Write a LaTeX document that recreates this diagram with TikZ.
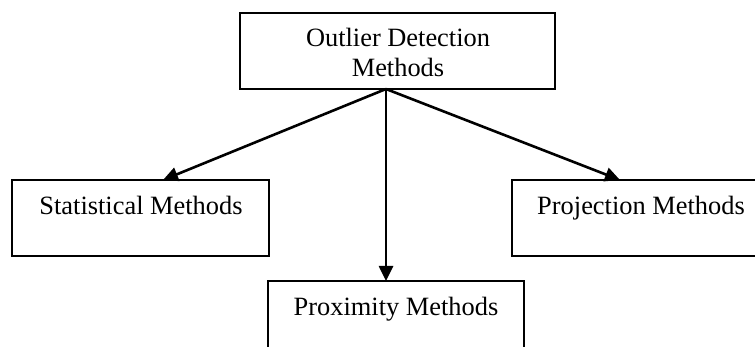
\documentclass[tikz,border=0pt]{standalone}
\usepackage{fontspec}
\setmainfont{Liberation Serif}
\usetikzlibrary{arrows.meta}
\begin{document}
\begin{tikzpicture}[x=1pt,y=-1pt,
  box/.style={draw=black,line width=2.2pt,inner sep=0pt},
  lbl/.style={font=\fontsize{26.4}{30}\selectfont,inner sep=0pt,anchor=base},
  conn/.style={line width=2.6pt,-{Triangle[length=15pt,width=14pt]}}]
\useasboundingbox (0,0) rectangle (755,347);
\clip (0,0) rectangle (755,347);
\fill[white] (0,0) rectangle (755,347);
% boxes
\node[box,minimum width=315pt,minimum height=76pt] (top) at (397.5,51) {};
\node[box,minimum width=257pt,minimum height=76pt] (stat) at (140.5,218) {};
\node[box,minimum width=256pt,minimum height=76pt] (proj) at (640,218) {};
\node[box,minimum width=256pt,minimum height=100pt] (prox) at (396,331) {};
% texts
\node[lbl] (t1) at (398,47) {Outlier Detection};
\node[lbl] (t2) at (398,77) {Methods};
\node[lbl] (t3) at (141,215) {Statistical Methods};
\node[lbl] (t4) at (641,215) {Projection Methods};
\node[lbl] (t5) at (396,316) {Proximity Methods};
% connectors
\coordinate (src) at (386,89);
\coordinate (a1) at (163,180);
\coordinate (a2) at (386,281);
\coordinate (a3) at (620,180);
\draw[conn] (src) -- (a1);
\draw[conn] (src) -- (a2);
\draw[conn] (src) -- (a3);
\end{tikzpicture}
\end{document}
